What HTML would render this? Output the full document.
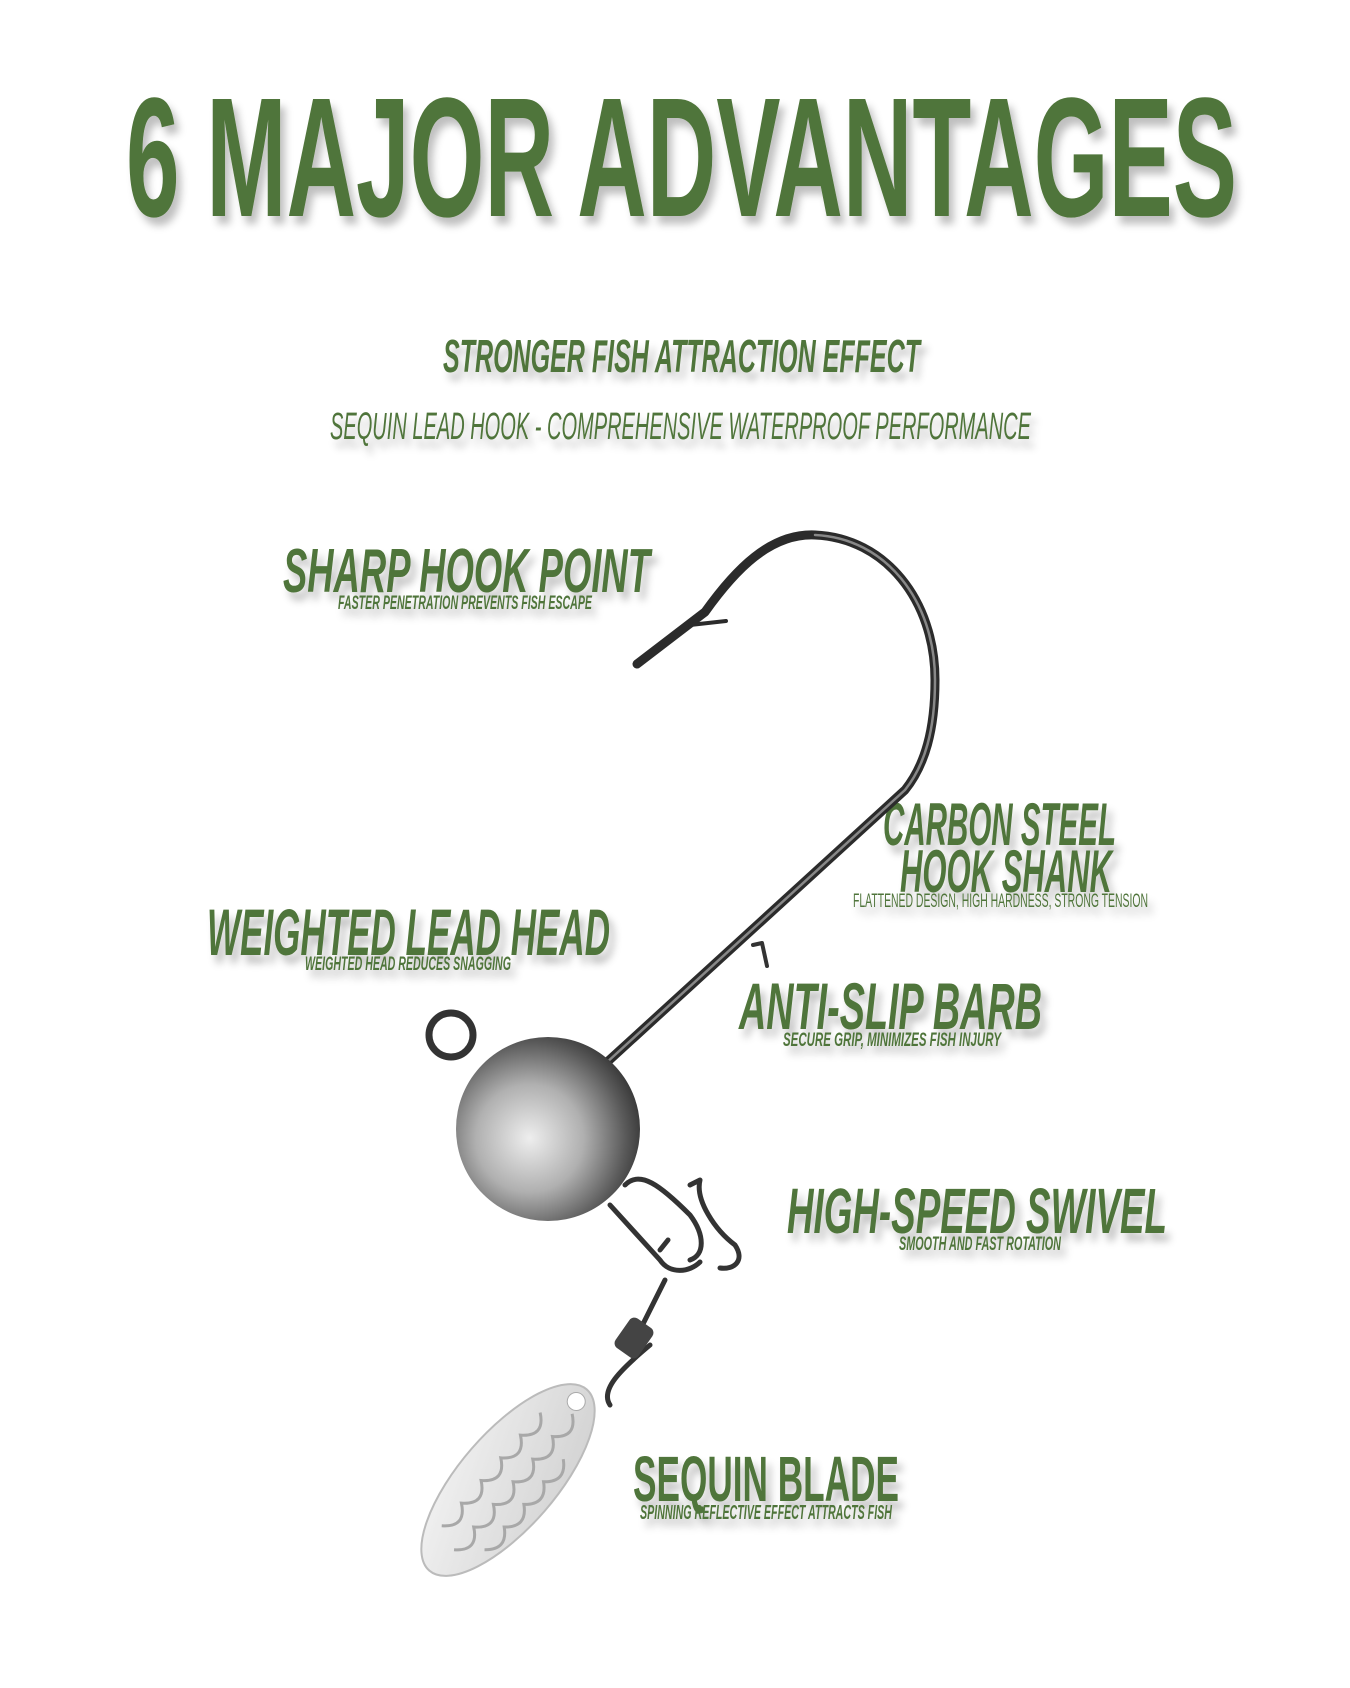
<!DOCTYPE html>
<html><head><meta charset="utf-8"><style>
html,body{margin:0;padding:0;background:#fff;}
svg{display:block;}
text{font-family:"Liberation Sans",sans-serif;fill:#50743a;}
</style></head><body>
<svg width="1350" height="1688" viewBox="0 0 1350 1688" xmlns="http://www.w3.org/2000/svg">
<defs>
<filter id="sh" x="-10%" y="-30%" width="120%" height="170%">
<feGaussianBlur in="SourceAlpha" stdDeviation="4"/>
<feOffset dx="5" dy="8" result="b"/>
<feFlood flood-color="#000" flood-opacity="0.25"/>
<feComposite in2="b" operator="in"/>
<feMerge><feMergeNode/><feMergeNode in="SourceGraphic"/></feMerge>
</filter>
<radialGradient id="ball" cx="0.4" cy="0.55" r="0.65">
<stop offset="0" stop-color="#eeeeee"/><stop offset="0.45" stop-color="#b0b0b0"/><stop offset="0.8" stop-color="#5a5a5a"/><stop offset="1" stop-color="#2e2e2e"/>
</radialGradient>
<linearGradient id="blade" x1="0" y1="0" x2="1" y2="1">
<stop offset="0" stop-color="#f4f4f4"/><stop offset="1" stop-color="#cfcfcf"/>
</linearGradient>
</defs>
<g filter="url(#sh)">
<text x="126" y="216" font-size="170" font-weight="bold" textLength="1111" lengthAdjust="spacingAndGlyphs">6 MAJOR ADVANTAGES</text>
<text x="443" y="372" font-size="46" font-weight="bold" font-style="italic" textLength="477" lengthAdjust="spacingAndGlyphs">STRONGER FISH ATTRACTION EFFECT</text>
<text x="330" y="439" font-size="38" font-style="italic" textLength="701" lengthAdjust="spacingAndGlyphs">SEQUIN LEAD HOOK - COMPREHENSIVE WATERPROOF PERFORMANCE</text>

<text x="283" y="592" font-size="62" font-weight="bold" font-style="italic" textLength="367" lengthAdjust="spacingAndGlyphs">SHARP HOOK POINT</text>
<text x="338" y="609" font-size="19" font-weight="bold" font-style="italic" textLength="254" lengthAdjust="spacingAndGlyphs">FASTER PENETRATION PREVENTS FISH ESCAPE</text>

<text x="883" y="845" font-size="60" font-weight="bold" font-style="italic" textLength="233" lengthAdjust="spacingAndGlyphs">CARBON STEEL</text>
<text x="900" y="892" font-size="60" font-weight="bold" font-style="italic" textLength="212" lengthAdjust="spacingAndGlyphs">HOOK SHANK</text>
<text x="853" y="907" font-size="19" textLength="295" lengthAdjust="spacingAndGlyphs">FLATTENED DESIGN, HIGH HARDNESS, STRONG TENSION</text>

<text x="207" y="955" font-size="66" font-weight="bold" font-style="italic" textLength="403" lengthAdjust="spacingAndGlyphs">WEIGHTED LEAD HEAD</text>
<text x="305" y="970" font-size="19" font-weight="bold" font-style="italic" textLength="206" lengthAdjust="spacingAndGlyphs">WEIGHTED HEAD REDUCES SNAGGING</text>

<text x="739" y="1029" font-size="66" font-weight="bold" font-style="italic" textLength="303" lengthAdjust="spacingAndGlyphs">ANTI-SLIP BARB</text>
<text x="783" y="1046" font-size="19" font-weight="bold" font-style="italic" textLength="218" lengthAdjust="spacingAndGlyphs">SECURE GRIP, MINIMIZES FISH INJURY</text>

<text x="787" y="1233" font-size="64" font-weight="bold" font-style="italic" textLength="380" lengthAdjust="spacingAndGlyphs">HIGH-SPEED SWIVEL</text>
<text x="899" y="1250" font-size="19" font-weight="bold" font-style="italic" textLength="162" lengthAdjust="spacingAndGlyphs">SMOOTH AND FAST ROTATION</text>

<text x="633" y="1501" font-size="64" font-weight="bold" textLength="266" lengthAdjust="spacingAndGlyphs">SEQUIN BLADE</text>
<text x="640" y="1519" font-size="20" font-weight="bold" font-style="italic" textLength="252" lengthAdjust="spacingAndGlyphs">SPINNING REFLECTIVE EFFECT ATTRACTS FISH</text>
</g>

<!-- hook -->
<g fill="none" stroke-linecap="round" stroke-linejoin="round">
<path d="M605,1064 L905,790 C925,765 935,730 935,680 C935,600 885,538 815,535 C770,533 735,570 705,612 L637,664" stroke="#2b2b2b" stroke-width="9"/>
<path d="M605,1064 L905,790 C925,765 935,730 935,680 C935,600 885,538 815,535" stroke="#888" stroke-width="2.5"/>
<path d="M690,625 L726,621" stroke="#2b2b2b" stroke-width="4"/>
<path d="M753,945 L762,943 L767,966" stroke="#333" stroke-width="4"/>
<circle cx="451" cy="1035" r="22" stroke="#333" stroke-width="7"/>
<path d="M625,1185 C640,1170 660,1185 690,1215 C705,1235 705,1255 690,1260 M690,1185 L700,1180 C695,1200 715,1230 735,1245 C745,1260 735,1270 720,1268 M610,1205 L660,1260 C670,1275 690,1272 700,1262 M668,1240 L660,1250 M650,1345 C620,1370 600,1390 610,1405 M665,1280 L640,1330" stroke="#333" stroke-width="5"/>
</g>
<rect x="620" y="1320" width="28" height="36" rx="6" fill="#444" transform="rotate(35 634 1338)"/>
<circle cx="548" cy="1129" r="92" fill="url(#ball)"/>
<!-- blade -->
<g transform="rotate(-49 508 1480)">
<ellipse cx="508" cy="1480" rx="120" ry="48" fill="url(#blade)" stroke="#bbb" stroke-width="2"/>
<g fill="none" stroke="#a8a8a8" stroke-width="3">
<path d="M430,1460 q15,20 30,0 q15,20 30,0 q15,20 30,0 q15,20 30,0 q15,20 30,0"/>
<path d="M420,1485 q15,20 30,0 q15,20 30,0 q15,20 30,0 q15,20 30,0 q15,20 30,0 q15,20 30,0"/>
<path d="M440,1508 q15,18 30,0 q15,18 30,0 q15,18 30,0 q15,18 30,0"/>
</g>
<circle cx="612" cy="1480" r="9" fill="#fff" stroke="#aaa"/>
</g>
</svg>
</body></html>
